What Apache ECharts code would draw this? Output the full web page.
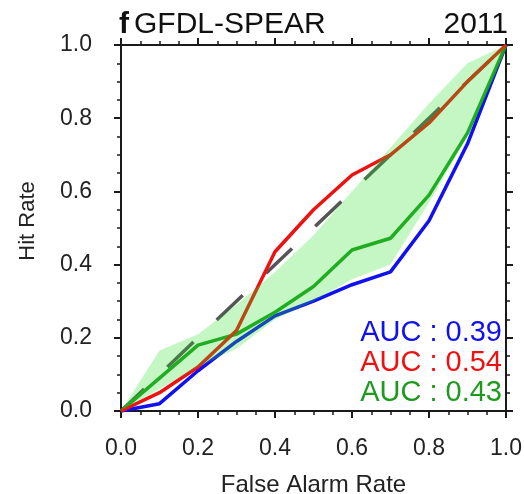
<!DOCTYPE html>
<html>
<head>
<meta charset="utf-8">
<script src="https://cdn.jsdelivr.net/npm/echarts@6/dist/echarts.min.js"></script>
<style>
  html, body { margin: 0; padding: 0; background: #fff; }
  #chart { width: 524px; height: 494px; }
</style>
</head>
<body>
<div id="chart"></div>
<script>
// ROC curves: false alarm rate vs hit rate
const falseAlarm = [0, 0.1, 0.2, 0.3, 0.4, 0.5, 0.6, 0.7, 0.8, 0.9, 1.0];
const hitBlue  = [0, 0.02, 0.11, 0.19, 0.26, 0.30, 0.345, 0.38, 0.52, 0.73, 1.0];
const hitRed   = [0, 0.05, 0.12, 0.22, 0.435, 0.55, 0.645, 0.70, 0.787, 0.90, 1.0];
const hitGreen = [0, 0.09, 0.18, 0.21, 0.27, 0.34, 0.44, 0.472, 0.59, 0.76, 1.0];
// spread of the green set
const bandUpper = [0, 0.165, 0.21, 0.29, 0.38, 0.48, 0.60, 0.72, 0.84, 0.95, 1.0];
const bandLower = [0, 0.06, 0.12, 0.17, 0.25, 0.30, 0.36, 0.40, 0.57, 0.75, 1.0];
const diagonal = [0, 1];
const axisTicks = [0, 0.2, 0.4, 0.6, 0.8, 1.0];
const aucLabels = ['AUC : 0.39', 'AUC : 0.54', 'AUC : 0.43'];
const panelLetter = 'f';
const panelTitle = 'GFDL-SPEAR';
const panelYear = '2011';

const BLUE = '#1010f0', RED = '#ee1111', GREEN = '#1f9a1f';
const FONT = '"Liberation Sans", Arial, sans-serif';

const pairs = (ys) => falseAlarm.map((x, i) => [x, ys[i]]);

function axisCommon(showLabel, pos) {
  return {
    type: 'value', min: 0, max: 1, interval: 0.2, position: pos,
    axisLine: { show: true, onZero: false, lineStyle: { color: '#1a1a1a', width: 2 } },
    axisTick: { show: true, inside: false, length: 7, lineStyle: { color: '#1a1a1a', width: 2 } },
    minorTick: { show: true, splitNumber: 4, length: 4, lineStyle: { color: '#1a1a1a', width: 1.5 } },
    splitLine: { show: false },
    axisLabel: {
      show: showLabel, color: '#222', fontFamily: FONT, fontSize: 23,
      formatter: (v) => axisTicks.includes(+v.toFixed(1)) ? v.toFixed(1) : ''
    }
  };
}

const chart = echarts.init(document.getElementById('chart'), null, { renderer: 'canvas' });

const xBottom = Object.assign(axisCommon(true, 'bottom'), {
  name: 'False Alarm Rate', nameLocation: 'middle', nameGap: 62,
  nameTextStyle: { color: '#222', fontFamily: FONT, fontSize: 24 }
});
xBottom.axisLabel.margin = 26;
const yLeft = Object.assign(axisCommon(true, 'left'), {
  name: 'Hit Rate', nameLocation: 'middle', nameGap: 82,
  nameTextStyle: { color: '#222', fontFamily: FONT, fontSize: 22, padding: [0, 0, 0, 14] }
});
yLeft.axisLabel.margin = 29;

chart.setOption({
  animation: false,
  backgroundColor: '#fff',
  grid: { left: 121, right: 18, top: 45, bottom: 83, containLabel: false, outerBoundsMode: 'none' },
  xAxis: [xBottom, axisCommon(false, 'top')],
  yAxis: [yLeft, axisCommon(false, 'right')],
  series: [
    {
      type: 'line', name: 'reference', data: diagonal.map((v) => [v, v]),
      showSymbol: false, z: 2,
      lineStyle: { color: '#555', width: 3.5, type: [36, 32], dashOffset: 4, cap: 'butt' }
    },
    { type: 'line', data: pairs(hitBlue), showSymbol: false, z: 3, lineStyle: { color: BLUE, width: 3.5 } },
    { type: 'line', data: pairs(hitGreen), showSymbol: false, z: 4, lineStyle: { color: GREEN, width: 3.5 } },
    { type: 'line', data: pairs(hitRed), showSymbol: false, z: 5, lineStyle: { color: RED, width: 3.5 } },
    {
      type: 'custom', z: 6, data: [0], silent: true,
      renderItem: (params, api) => {
        const pts = [];
        falseAlarm.forEach((x, i) => pts.push(api.coord([x, bandUpper[i]])));
        for (let i = falseAlarm.length - 1; i >= 0; i--) pts.push(api.coord([falseAlarm[i], bandLower[i]]));
        return {
          type: 'polygon', shape: { points: pts },
          style: { fill: 'rgba(40,225,40,0.27)', stroke: 'none' }
        };
      }
    }
  ],
  graphic: [
    { type: 'text', left: 119, top: 10, z: 10, style: { text: panelLetter, font: 'bold 30px ' + FONT, fill: '#111' } },
    { type: 'text', left: 134, top: 10, z: 10, style: { text: panelTitle, font: '30px ' + FONT, fill: '#111' } },
    { type: 'text', right: 16, top: 10, z: 10, style: { text: panelYear, font: '30px ' + FONT, fill: '#111' } },
    { type: 'text', right: 22, top: 318, z: 10, style: { text: aucLabels[0], font: '29px ' + FONT, fill: BLUE } },
    { type: 'text', right: 22, top: 348, z: 10, style: { text: aucLabels[1], font: '29px ' + FONT, fill: RED } },
    { type: 'text', right: 22, top: 378, z: 10, style: { text: aucLabels[2], font: '29px ' + FONT, fill: GREEN } }
  ]
});
</script>
</body>
</html>
